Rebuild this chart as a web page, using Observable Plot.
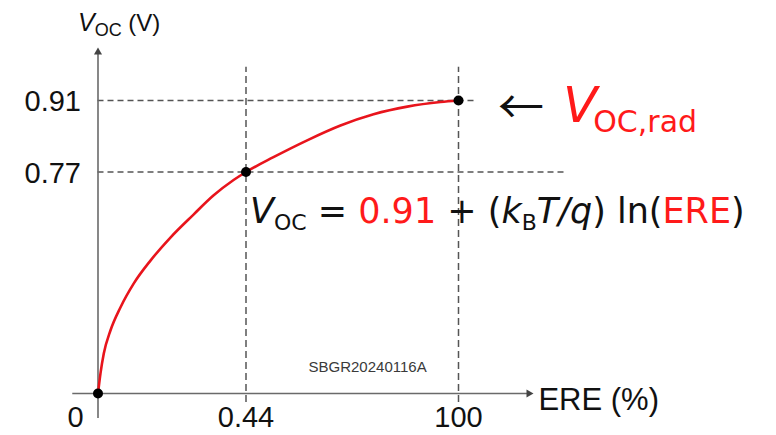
<!DOCTYPE html>
<html>
<head>
<meta charset="utf-8">
<script src="https://cdn.jsdelivr.net/npm/d3@7"></script>
<script src="https://cdn.jsdelivr.net/npm/@observablehq/plot@0.6"></script>
<style>
  html, body { margin: 0; padding: 0; background: #fff; }
  svg text { white-space: pre; }
</style>
</head>
<body>
<div id="chart"></div>
<script>
// ---- data (schematic, non-linear axes) ----
const xTicks = [0, 0.44, 100];
const xTickLabels = ["0", "0.44", "100"];
const yTicks = [0.77, 0.91];
const yTickLabels = ["0.77", "0.91"];
const markedX = [0, 0.44, 100];
const markedY = [0, 0.77, 0.91];
const curveX = [0, 0.0074, 0.0172, 0.037, 0.067, 0.106, 0.156, 0.216, 0.284, 0.343, 0.403, 0.44, 13.3, 29.1, 44.7, 60.2, 76.0, 91.6, 100];
const curveY = [0, 0.070, 0.139, 0.219, 0.300, 0.382, 0.462, 0.543, 0.622, 0.688, 0.742, 0.77, 0.799, 0.832, 0.861, 0.883, 0.898, 0.907, 0.91];
const watermark = "SBGR20240116A";

const curve = curveX.map((x, i) => ({x, y: curveY[i]}));
const marked = markedX.map((x, i) => ({x, y: markedY[i]}));
const xLabels = xTicks.map((x, i) => ({x, label: xTickLabels[i]}));
const yLabels = yTicks.map((y, i) => ({y, label: yTickLabels[i]}));

const axisColor = "#6a6a6a";
const dashColor = "#555";
const dash = "6,4";

const chart = Plot.plot({
  width: 776,
  height: 435,
  marginTop: 0, marginRight: 0, marginBottom: 0, marginLeft: 0,
  style: {fontFamily: "'Liberation Sans', Arial, sans-serif", background: "white", color: "#111"},
  x: {type: "linear", domain: [0, 0.44, 100], range: [97.5, 245.5, 458], axis: null},
  y: {type: "linear", domain: [0, 0.77, 0.91], range: [393, 171.5, 100], axis: null},
  marks: [
    // dashed guides
    Plot.ruleY([0.91], {x1: 0, x2: 108, stroke: dashColor, strokeWidth: 1.5, strokeDasharray: dash}),
    Plot.ruleY([0.77], {x1: 0, x2: 151, stroke: dashColor, strokeWidth: 1.5, strokeDasharray: dash}),
    Plot.ruleX([0.44, 100], {y1: -0.031, y2: 0.975, stroke: dashColor, strokeWidth: 1.5, strokeDasharray: "7,4"}),
    // axes
    Plot.ruleY([0], {x1: -0.075, x2: 133, stroke: axisColor, strokeWidth: 1.6}),
    Plot.ruleX([0], {y1: -0.087, y2: 1.008, stroke: axisColor, strokeWidth: 1.6}),
    Plot.dot([{x: 0, y: 1.0138}], {x: "x", y: "y", symbol: "triangle", r: 3, fill: "#444", stroke: "none", dy: 4.6}),
    Plot.dot([{x: 135.1, y: 0}], {x: "x", y: "y", symbol: "triangle", r: 3, fill: "#444", stroke: "none", rotate: 90, dx: -4.6}),
    // curve and points
    Plot.line(curve, {x: "x", y: "y", stroke: "#e8141c", strokeWidth: 2.6, curve: "monotone-x"}),
    Plot.dot(marked, {x: "x", y: "y", r: 5, fill: "black", stroke: "none"}),
    // tick labels
    Plot.text(xLabels.filter(d => d.x === 0), {x: "x", y: 0, text: "label", dx: -22.5, dy: 24, fontSize: 29, fill: "#111"}),
    Plot.text(xLabels.filter(d => d.x !== 0), {x: "x", y: 0, text: "label", dy: 24, fontSize: 29, fill: "#111"}),
    Plot.text(yLabels, {x: 0, y: "y", text: "label", textAnchor: "end", dx: -17, dy: 1.5, fontSize: 29, fill: "#111"}),
    Plot.text(["ERE (%)"], {x: 135.1, y: 0, text: d => d, textAnchor: "start", dx: 5, dy: 7, fontSize: 31, fill: "#111"}),
    Plot.text([watermark], {x: 57.4, y: 0.09, text: d => d, fontSize: 15, fill: "#3a3a3a"})
  ]
});

document.getElementById("chart").appendChild(chart);

// ---- rich-text annotations positioned from the plot scales ----
const X = v => chart.scale("x").apply(v);
const Y = v => chart.scale("y").apply(v);
const svg = d3.select(chart);

function rich(x, y, family, parts) {
  const t = svg.append("text").attr("x", x).attr("y", y)
    .attr("text-anchor", "start")
    .attr("font-family", family).style("white-space", "pre");
  for (const p of parts) {
    const s = t.append("tspan").text(p.t).attr("font-size", p.size).attr("fill", p.fill || "#111");
    if (p.italic) s.attr("font-style", "italic");
    if (p.dy) s.attr("dy", p.dy);
    if (p.dx) s.attr("dx", p.dx);
  }
  return t;
}

// y-axis title: V_OC (V)
rich(X(0) - 19.5, Y(1.0138) - 16, "'Liberation Sans', Arial, sans-serif", [
  {t: "V", size: 25, italic: true},
  {t: "OC", size: 18, dy: 5},
  {t: " (V)", size: 24, dy: -5}
]);

// arrow pointing to V_OC,rad
svg.append("text").attr("x", X(100) + 40).attr("y", Y(0.91) + 3)
  .attr("text-anchor", "start")
  .attr("font-family", "'Noto Sans CJK JP', 'DejaVu Sans', sans-serif")
  .attr("font-size", 46).attr("dominant-baseline", "central").attr("fill", "#111").text("←");

rich(X(100) + 105, Y(0.91) + 22, "'DejaVu Sans', Verdana, sans-serif", [
  {t: "V", size: 50, italic: true, fill: "#ff1a1a"},
  {t: "OC,rad", size: 30, dy: 10, dx: -4, fill: "#ff1a1a"}
]);

// formula
rich(X(0.44) + 4.5, Y(0.77) + 51.5, "'DejaVu Sans', Verdana, sans-serif", [
  {t: "V", size: 35, italic: true},
  {t: "OC", size: 22, dy: 7},
  {t: " = ", size: 35, dy: -7},
  {t: "0.91", size: 35, fill: "#ff1a1a"},
  {t: " + (", size: 35},
  {t: "k", size: 35, italic: true},
  {t: "B", size: 22, dy: 7},
  {t: "T/q", size: 35, italic: true, dy: -7},
  {t: ") ln(", size: 35},
  {t: "ERE", size: 35, fill: "#ff1a1a"},
  {t: ")", size: 35}
]);
</script>
</body>
</html>
